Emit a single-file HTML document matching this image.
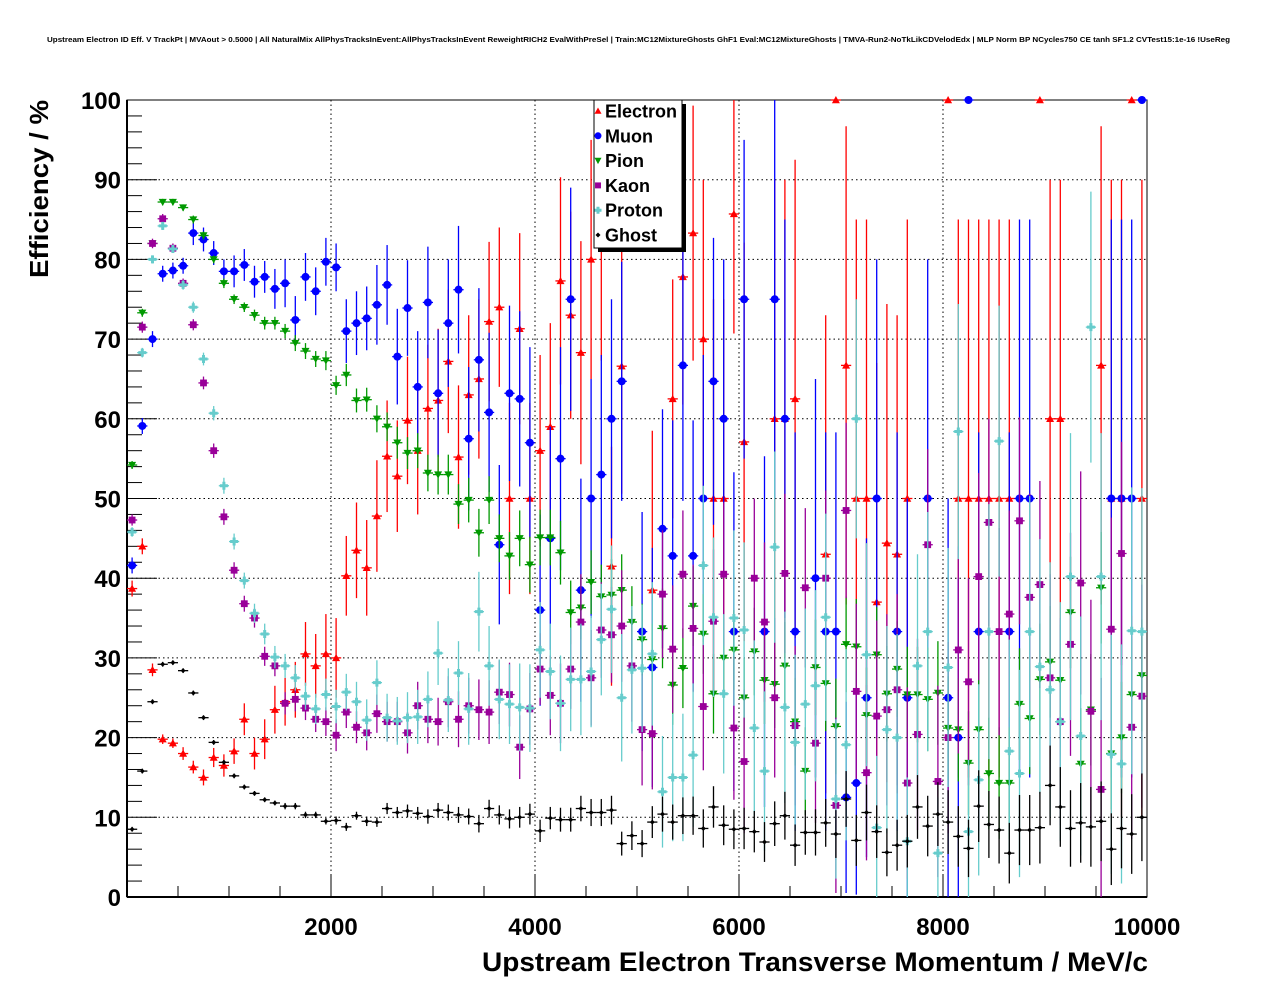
<!DOCTYPE html>
<html><head><meta charset="utf-8">
<style>
html,body{margin:0;padding:0;background:#fff;}
svg{display:block;font-family:"Liberation Sans",Arial,sans-serif;}
</style></head>
<body>
<svg id="chart" width="1276" height="996" viewBox="0 0 1276 996" xmlns="http://www.w3.org/2000/svg">
<rect width="1276" height="996" fill="#fff"/>
<text x="47" y="42" font-size="7.6" font-weight="bold" textLength="1183" lengthAdjust="spacingAndGlyphs">Upstream Electron ID Eff. V TrackPt | MVAout &gt; 0.5000 | All NaturalMix AllPhysTracksInEvent:AllPhysTracksInEvent ReweightRICH2 EvalWithPreSel | Train:MC12MixtureGhosts GhF1 Eval:MC12MixtureGhosts | TMVA-Run2-NoTkLikCDVelodEdx | MLP Norm BP NCycles750 CE tanh SF1.2 CVTest15:1e-16 !UseReg</text>
<g id="grid"></g>
<g id="axes"></g>
<g id="series"></g>
<g id="legend"></g>
<text x="482" y="971" font-size="27" font-weight="bold" textLength="666" lengthAdjust="spacingAndGlyphs">Upstream Electron Transverse Momentum / MeV/c</text>
<text transform="translate(48,278) rotate(-90)" font-size="26" font-weight="bold" textLength="178" lengthAdjust="spacingAndGlyphs">Efficiency / %</text>
</svg>
<script>
const binCenters = [];
for (let i = 0; i < 100; i++) binCenters.push(50 + 100 * i);
const xTicks = [2000, 4000, 6000, 8000, 10000];
const yTicks = [0, 10, 20, 30, 40, 50, 60, 70, 80, 90, 100];

const electron = [38.7,44,28.5,19.8,19.3,18,16.3,15,17.5,16.5,18.3,22.3,18,19.8,23.5,24.5,26,30.5,29,30.5,30,40.3,43.5,41.3,47.8,55.3,52.8,59.8,56,61.3,62.3,67.2,55.2,63,65,72.2,74,50,71.3,50,56,59,77.3,73,68.3,80,82.3,41.5,66.6,null,null,38.5,null,62.5,77.8,83.3,70,50,50,85.7,57.1,null,null,60,60,62.5,null,null,43,100,66.7,50,50,37,44.4,43,50,null,null,null,100,50,50,50,50,50,50,null,null,100,60,60,null,null,null,66.7,50,50,100,50];
const electronErr = [1,1,0.8,0.6,0.6,0.8,0.8,1,1.2,1.4,1.6,2,2,2.5,3,3,3.5,4,4,5,5,5,6,6,7,7,7,8,8,8,9,9,9,10,10,10,10,12,12,12,12,13,13,13,14,15,15,15,16,0,0,20,0,15,16,16,20,25,25,15,25,0,0,30,30,30,0,0,30,0,30,35,35,30,30,30,35,0,0,0,0,35,35,35,35,35,35,0,0,0,30,30,0,0,0,30,40,40,0,40];
const muon = [41.6,59.1,70,78.2,78.6,79.2,83.3,82.5,80.8,78.5,78.5,79.3,77.2,77.8,76.3,77,72.4,77.8,76,79.7,79,71,72,72.6,74.3,76.8,67.8,73.9,64,74.6,63.2,72,76.2,57.5,67.4,60.8,44.2,63.2,62.5,57,36,45,55,75,38.5,50,53,60,64.7,null,33.3,28.8,46.2,42.8,66.7,42.8,50,64.7,60,33.3,75,null,33.3,75,60,33.3,null,40,33.3,33.3,12.5,14.3,25,50,null,33.3,25,null,50,null,25,20,100,33.3,null,null,33.3,50,50,null,null,null,null,null,null,null,50,50,50,100];
const muonErr = [1,1,1,1,1,1,1.5,1.5,1.5,1.5,2,2,2,2,2.5,3,3,3,3,3,3,4,4,4,5,5,6,6,7,7,8,8,8,9,9,10,10,11,11,12,12,14,14,14,14,15,15,15,15,0,15,15,15,17,17,17,18,18,20,20,20,0,22,25,25,25,0,25,25,25,12,14,20,30,0,25,25,0,30,0,25,20,0,25,0,0,25,35,35,0,0,0,0,0,0,0,35,35,35,0];
const pion = [54.2,73.3,82,87.2,87.2,86.5,85,83,80,77,75,74,73,72,72,71,69.5,68.5,67.5,67.3,64.2,65.5,62.3,62.4,60,59,57,55.7,56,53.2,53,53,49.3,49.8,45.7,49.8,45,42.8,45,41.7,45.1,45.1,43.2,35.7,36.3,39.5,37.7,37.9,38.5,34.5,32.3,29.8,33.7,26.6,28.7,36.5,33,25.5,30,31,25,30.8,27.2,26.7,29,22,15.8,28.8,26.8,21.4,31.7,31.4,22.8,30.4,25.5,28.6,25.4,25.4,24.8,25.6,21.2,21,16.8,21,15.5,14.3,14.3,24.2,22.4,27.3,29.5,27.2,35.7,16.7,23.5,38.8,18,20,25.4,27.8];
const pionErr = [0.5,0.5,0.4,0.4,0.4,0.4,0.5,0.5,0.5,0.6,0.6,0.6,0.7,0.8,0.8,0.9,1,1,1,1.2,1.2,1.4,1.5,1.5,1.7,1.8,2,2,2.2,2.3,2.5,2.5,2.5,2.8,3,3,3,3,3.5,3.5,3.5,3.5,4,4,4,4,4,4.5,4.5,4.5,4.5,4.5,5,5,5,5,5,5,5,5,5,5.5,5.5,5.5,5.5,5.5,5.5,6,6,6,6,6,6,6,6,6,6,6,6.5,6.5,6.5,6.5,6.5,7,7,7,7,7,7,7,7,7,7,7,7,7,7,7,7,7];
const kaon = [47.3,71.5,82,85.1,81.4,77,71.8,64.5,56,47.7,41,36.8,35,30.2,29,24.3,24.8,23.7,22.3,22,20.3,23.2,21.3,20.6,23,22,22,20.6,24,22.3,22,24.5,22.3,24,23.5,23.2,25.7,25.4,18.8,23.6,28.6,25.3,24.3,28.6,34.5,27.5,33.5,32.9,34,29,21,20.5,38,31.1,40.5,33.7,23.9,34.6,40.5,21.2,17,40,34.5,25,40.6,21.5,38.8,19.3,40,11.5,48.5,25.8,15.6,22.7,23.5,26,14.3,20.4,44.2,14.5,20,31,27,40.2,47,33.3,35.5,47.2,37.6,39.2,27.5,22,31.7,39.4,23.3,13.5,33.6,43.1,21.3,25.2];
const kaonErr = [0.7,0.7,0.6,0.6,0.6,0.6,0.7,0.8,0.9,1,1,1,1.2,1.2,1.3,1.4,1.5,1.5,1.6,1.8,2,2,2,2.2,2.4,2.5,2.5,2.6,3,3,3,3.2,3.5,3.5,3.8,4,4,4,4,4.5,4.5,5,5,5,6,6,6,6,7,7,7,7,8,8,8,8,8,9,9,9,9,10,10,10,10,10,10,10,11,11,11,11,11,12,12,12,12,12,12,12,12,13,13,13,13,13,13,13,13,13,13,13,14,14,14,14,14,14,14,14];
const proton = [45.8,68.3,80,84.2,81.3,76.8,74,67.5,60.7,51.6,44.6,39.7,35.6,33,30.1,29,27.5,25.2,23.6,25.4,23.9,25.7,24.5,22.2,26.9,22.5,22.1,22.5,22.6,24.8,30.6,24.7,28.1,23.6,35.8,29,24.8,24.2,23.8,23.7,31,28.3,24.3,27.3,27.3,28.3,32.3,36.1,25,28.5,28.7,30.5,13.2,15,15,17.8,41.6,35.1,25.5,35,33.5,21.2,15.8,43.9,23.8,19.4,24.2,26.5,35.1,12.3,19.1,60,30.4,8.7,21,20,7,29,33.3,5.5,28.8,58.4,8.2,14.7,33.3,57.2,18.3,15.5,33.3,28.9,26,22,40.2,20.2,71.5,40.2,17.9,16.7,33.4,33.3];
const protonErr = [0.6,0.6,0.5,0.5,0.5,0.6,0.7,0.8,0.9,1,1,1,1.2,1.3,1.4,1.5,1.6,1.7,1.9,2,2.1,2.3,2.5,2.6,2.8,3,3,3.2,3.4,3.5,4,4,4,4.5,5,5,5,5,5.5,5.5,6,6,6,6.5,7,7,7,8,8,8,8,9,7,8,8,9,10,10,10,11,11,11,10,12,12,11,12,12,13,10,12,15,14,9,13,13,8,14,15,7,15,16,9,12,16,17,14,13,17,16,16,15,18,15,17,18,15,15,18,18];
const ghost = [8.5,15.8,24.5,29.2,29.4,28.4,25.6,22.5,19.4,16.9,15.2,13.8,13,12.2,11.8,11.4,11.4,10.3,10.3,9.5,9.6,8.8,10.2,9.5,9.4,11.1,10.6,10.8,10.5,10.1,10.9,10.6,10.3,10.1,9.2,11.1,10.3,9.8,10,10.4,8.3,9.9,9.7,9.7,11.1,10.6,10.6,10.9,6.7,7.7,6.7,9.4,10.4,9.4,10.2,10.2,8.6,11.3,9,8.5,8.6,8.2,6.9,9.2,10.2,6.5,8.1,8.1,9.3,7.9,12.3,7.1,10.6,8.2,5.6,6.5,7,11.3,8.9,10.4,9.4,7.6,6.1,11.4,9.1,8.4,5.5,8.4,8.4,8.7,14,11.3,8.6,9.3,8.8,9.5,6,8.6,7.9,10];
const ghostErr = [0.3,0.3,0.3,0.3,0.3,0.3,0.3,0.3,0.3,0.3,0.3,0.3,0.3,0.3,0.3,0.4,0.4,0.4,0.4,0.4,0.5,0.5,0.5,0.6,0.6,0.7,0.7,0.8,0.8,0.9,0.9,1,1,1,1.1,1.1,1.2,1.2,1.3,1.3,1.4,1.4,1.5,1.5,1.6,1.7,1.7,1.8,1.5,1.8,1.7,2,2.2,2.2,2.3,2.4,2.4,2.6,2.5,2.5,2.6,2.6,2.5,2.8,3,2.6,2.8,2.9,3,3,3.5,3.2,3.5,3.3,3,3.2,3.3,4,3.8,4,4,3.8,3.6,4.5,4.2,4.2,3.8,4.4,4.4,4.5,5,5,4.8,5,5,5,4.5,5,5,5.5];

const seriesNames = ["Electron","Muon","Pion","Kaon","Proton","Ghost"];
const seriesVals = [electron, muon, pion, kaon, proton, ghost];
const seriesErrs = [electronErr, muonErr, pionErr, kaonErr, protonErr, ghostErr];
const seriesColors = ["#ff0000","#0000ff","#009900","#990099","#66cccc","#000000"];
const seriesMarkers = ["tri-up","circle","tri-down","square","cross","diamond"];

const NS = "http://www.w3.org/2000/svg";
const X0 = 127, X1 = 1147, Y0 = 897, Y1 = 100;
const xScale = v => X0 + (v / 10000) * (X1 - X0);
const yScale = v => Y0 - (v / 100) * (Y0 - Y1);
function mk(tag, attrs, parent) {
  const e = document.createElementNS(NS, tag);
  for (const k in attrs) e.setAttribute(k, attrs[k]);
  parent.appendChild(e);
  return e;
}
const grid = document.getElementById('grid');
const axes = document.getElementById('axes');
const seriesG = document.getElementById('series');
const legend = document.getElementById('legend');

xTicks.slice(0, 4).forEach(t => {
  const l = mk('line', {x1: xScale(t), x2: xScale(t), y1: Y1, y2: Y0, stroke: '#000', 'stroke-width': 1, 'stroke-dasharray': '1.5,3'}, grid);
  
  
});
yTicks.slice(1, 10).forEach(t => {
  const l = mk('line', {x1: X0, x2: X1, y1: yScale(t), y2: yScale(t), stroke: '#000', 'stroke-width': 1, 'stroke-dasharray': '1.5,3'}, grid);
  
  
});

const frame = mk('rect', {x: X0, y: Y1, width: X1 - X0, height: Y0 - Y1, fill: 'none', stroke: '#000', 'stroke-width': 1}, axes);


mk('line', {x1: X0, x2: X0, y1: Y1, y2: Y0, stroke: '#000', 'stroke-width': 2}, axes);
mk('line', {x1: X0, x2: X1, y1: Y0, y2: Y0, stroke: '#000', 'stroke-width': 2}, axes);

for (let v = 0; v <= 10000; v += 500) {
  const major = v % 2000 === 0;
  mk('line', {x1: xScale(v), x2: xScale(v), y1: Y0, y2: Y0 - (major ? 22 : 11), stroke: '#000', 'stroke-width': 1}, axes);
}
xTicks.forEach(t => {
  const tx = mk('text', {x: xScale(t), y: 935, 'font-size': 24, 'font-weight': 'bold', 'text-anchor': 'middle'}, axes);
  tx.textContent = t;
  
  
});
for (let v = 0; v <= 100; v += 2) {
  const major = v % 10 === 0;
  mk('line', {x1: X0, x2: X0 + (major ? 30 : 15), y1: yScale(v), y2: yScale(v), stroke: '#000', 'stroke-width': 1}, axes);
}
yTicks.forEach(t => {
  const tx = mk('text', {x: 121, y: yScale(t) + 9, 'font-size': 24, 'font-weight': 'bold', 'text-anchor': 'end'}, axes);
  tx.textContent = t;
  
  
});

function marker(kind, cx, cy, color, parent, s) {
  s = s || 4;
  if (kind === 'tri-up') return mk('polygon', {points: `${cx},${cy - s} ${cx - s},${cy + s * 0.8} ${cx + s},${cy + s * 0.8}`, fill: color}, parent);
  if (kind === 'tri-down') return mk('polygon', {points: `${cx},${cy + s} ${cx - s},${cy - s * 0.8} ${cx + s},${cy - s * 0.8}`, fill: color}, parent);
  if (kind === 'circle') return mk('circle', {cx: cx, cy: cy, r: s, fill: color}, parent);
  if (kind === 'square') return mk('rect', {x: cx - s * 0.85, y: cy - s * 0.85, width: s * 1.7, height: s * 1.7, fill: color}, parent);
  if (kind === 'cross') return mk('path', {d: `M${cx - s},${cy - 1.5}h${s * 2}v3h${-s * 2}z M${cx - 1.5},${cy - s}h3v${s * 2}h-3z`, fill: color}, parent);
  return mk('polygon', {points: `${cx},${cy - 2.5} ${cx + 2.5},${cy} ${cx},${cy + 2.5} ${cx - 2.5},${cy}`, fill: color}, parent);
}

seriesNames.forEach((name, si) => {
  const g = mk('g', {}, seriesG);
  
  
  const vals = seriesVals[si], errs = seriesErrs[si], col = seriesColors[si];
  vals.forEach((v, i) => {
    if (v === null) return;
    const cx = xScale(binCenters[i]), cy = yScale(v);
    const e = errs[i] || 0;
    const top = yScale(Math.min(100, v + e)), bot = yScale(Math.max(0, v - e));
    mk('line', {x1: cx, x2: cx, y1: top, y2: bot, stroke: col, 'stroke-width': 1.3}, g);
    mk('line', {x1: xScale(binCenters[i] - 50), x2: xScale(binCenters[i] + 50), y1: cy, y2: cy, stroke: col, 'stroke-width': 1.3}, g);
    const m = marker(seriesMarkers[si], cx, cy, col, g);
    
    
  });
});

mk('rect', {x: 598, y: 104, width: 88, height: 148, fill: '#000'}, legend);
const lbox = mk('rect', {x: 594, y: 100, width: 88, height: 148, fill: '#fff', stroke: '#000', 'stroke-width': 1}, legend);


seriesNames.forEach((name, si) => {
  const y = 111 + si * 24.8;
  const g = mk('g', {}, legend);
  
  
  marker(seriesMarkers[si], 598, y, seriesColors[si], g, 3.5);
  const t = mk('text', {x: 605, y: y + 6.5, 'font-size': 18, 'font-weight': 'bold'}, g);
  t.textContent = name;
});
</script>
</body></html>
